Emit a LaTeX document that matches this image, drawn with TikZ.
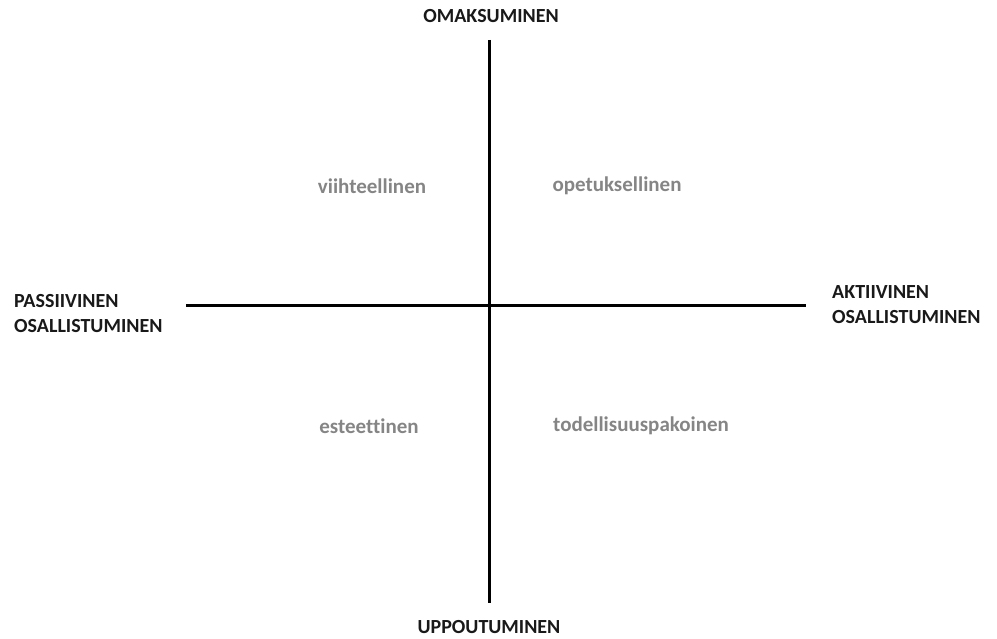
\documentclass[tikz,border=0pt]{standalone}
\usepackage{fontspec}
\setmainfont[Ligatures=CommonOff]{Carlito}
\usepackage{tikz}
\usetikzlibrary{positioning}
\definecolor{Axis}{HTML}{000000}
\definecolor{Soft}{HTML}{858585}
\tikzset{
axislabel/.style={font=\bfseries\fontsize{20}{25}\selectfont, text=black!90, inner sep=0pt, align=left},
quadlabel/.style={font=\bfseries\fontsize{21}{24}\selectfont, text=Soft, inner sep=0pt},
axisline/.style={draw=Axis, line width=3pt}
}
\begin{document}
\begin{tikzpicture}[x=1pt, y=-1pt]
  \useasboundingbox (0,0) rectangle (997,639);
  \coordinate (top) at (489,40);
  \coordinate (bottom) at (489,603);
  \coordinate (left) at (186,306);
  \coordinate (right) at (806,306);
  \node[axislabel] (omak) at (491,16) {OMAKSUMINEN};
  \node[axislabel] (uppo) at (489,627) {UPPOUTUMINEN};
  \node[axislabel, anchor=west] (passi) at (14,314) {PASSIIVINEN\\OSALLISTUMINEN};
  \node[axislabel, anchor=west] (akti) at (832,305) {AKTIIVINEN\\OSALLISTUMINEN};
  \node[quadlabel] (viih) at (372,186) {viihteellinen};
  \node[quadlabel] (opet) at (617,186) {opetuksellinen};
  \node[quadlabel] (este) at (369,426) {esteettinen};
  \node[quadlabel] (tode) at (641,426) {todellisuuspakoinen};
  \draw[axisline] (top) -- (bottom);
  \draw[axisline] (left) -- (right);
\end{tikzpicture}
\end{document}
